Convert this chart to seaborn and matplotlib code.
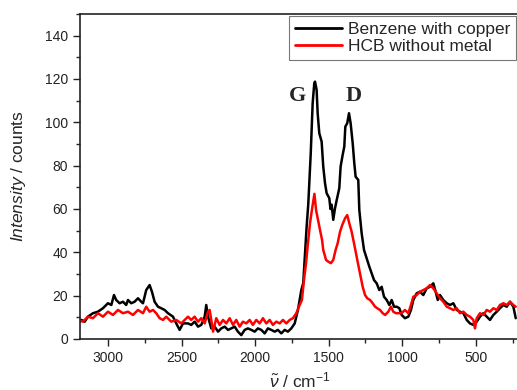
import matplotlib
matplotlib.use("Agg")
import matplotlib.pyplot as plt
import seaborn as sns
import pandas as pd
from matplotlib.ticker import MultipleLocator

# ---------------- data ----------------
bz_wavenumber = [3204, 3181, 3158, 3136, 3102, 3068, 3034, 3000, 2977, 2959, 2944, 2921, 2898,
                 2876, 2864, 2842, 2819, 2796, 2774, 2762, 2740, 2717, 2701, 2683, 2660, 2638,
                 2615, 2592, 2558, 2536, 2513, 2490, 2456, 2434, 2411, 2388, 2366, 2343, 2332,
                 2320, 2298, 2275, 2252, 2230, 2207, 2184, 2162, 2139, 2117, 2094, 2071, 2049,
                 2026, 2003, 1981, 1958, 1935, 1913, 1890, 1867, 1845, 1822, 1799, 1777, 1754,
                 1731, 1709, 1686, 1673, 1650, 1639, 1622, 1609, 1598, 1593, 1582, 1575, 1564,
                 1548, 1537, 1525, 1514, 1496, 1488, 1480, 1469, 1458, 1446, 1428, 1419, 1405,
                 1394, 1387, 1374, 1362, 1351, 1337, 1326, 1317, 1299, 1292, 1276, 1260, 1242,
                 1224, 1208, 1192, 1174, 1156, 1140, 1124, 1106, 1088, 1072, 1056, 1038, 1020,
                 1004, 982, 959, 941, 925, 902, 880, 857, 834, 812, 789, 773, 759, 744, 721, 698,
                 676, 653, 630, 608, 585, 562, 540, 517, 494, 472, 449, 426, 404, 381, 358, 336,
                 313, 290, 268, 245, 229]
bz_intensity = [7.2, 8.8, 8.0, 10.3, 11.9, 12.6, 14.2, 16.5, 15.7, 20.3, 18.0, 16.5, 17.2,
                15.7, 18.0, 16.5, 17.2, 18.8, 17.2, 16.5, 22.6, 24.9, 21.8, 17.2, 14.9, 14.2,
                13.4, 11.9, 10.3, 7.2, 4.2, 7.2, 7.2, 6.5, 8.0, 5.7, 6.5, 10.3, 15.7,
                10.3, 4.9, 5.7, 3.4, 4.9, 5.7, 4.2, 4.9, 5.7, 3.4, 1.8, 4.2, 4.9,
                4.2, 3.4, 4.9, 4.2, 2.6, 4.9, 4.2, 3.4, 4.2, 2.6, 4.2, 3.4, 4.9,
                7.2, 13.4, 22.6, 25.8, 51.8, 62.0, 85.7, 108.8, 118.0, 118.8, 115.0, 104.2, 95.0,
                91.1, 79.6, 71.9, 67.3, 65.0, 60.0, 62.0, 55.0, 60.0, 64.0, 69.6, 79.6, 85.0,
                88.8, 98.0, 99.6, 104.2, 99.6, 90.4, 81.1, 74.9, 73.4, 59.6, 48.8, 41.1, 37.3,
                33.4, 30.3, 27.2, 25.7, 22.6, 24.1, 19.5, 18.0, 15.7, 18.0, 14.9, 14.9, 14.2,
                11.1, 9.6, 10.3, 13.4, 18.0, 21.1, 21.8, 20.3, 23.4, 24.1, 25.7, 21.8, 18.0, 20.3, 18.0, 16.5,
                15.7, 16.5, 13.4, 12.6, 11.9, 8.8, 7.2, 6.5, 8.0, 10.3, 11.9, 10.3, 8.8, 11.1, 12.6, 14.2,
                15.7, 14.9, 17.2, 14.9, 9.6]

hcb_wavenumber = [3204, 3170, 3136, 3102, 3068, 3034, 3000, 2966, 2932, 2898, 2864, 2830, 2796,
                  2762, 2740, 2717, 2694, 2672, 2649, 2626, 2604, 2570, 2536, 2502, 2456, 2434,
                  2411, 2388, 2366, 2343, 2320, 2309, 2298, 2286, 2264, 2241, 2218, 2196, 2173,
                  2150, 2128, 2105, 2083, 2060, 2037, 2015, 1992, 1969, 1947, 1924, 1901, 1879,
                  1856, 1833, 1811, 1788, 1765, 1743, 1720, 1702, 1682, 1668, 1654, 1641, 1627,
                  1614, 1597, 1586, 1573, 1559, 1545, 1537, 1518, 1503, 1485, 1469, 1453, 1439,
                  1423, 1408, 1389, 1374, 1360, 1344, 1328, 1315, 1299, 1283, 1269, 1253, 1238,
                  1219, 1201, 1185, 1170, 1151, 1133, 1116, 1095, 1077, 1061, 1043, 1024, 1004,
                  982, 959, 941, 925, 902, 880, 857, 834, 812, 789, 766, 744, 721, 698, 676, 653,
                  630, 608, 585, 562, 540, 517, 506, 494, 472, 449, 426, 404, 381, 358, 336, 313,
                  290, 268, 245, 229]
hcb_intensity = [8.8, 8.0, 10.3, 9.6, 11.9, 10.3, 12.6, 11.1, 13.4, 11.9, 12.6, 11.1, 13.4,
                 11.9, 14.9, 12.6, 13.4, 11.9, 9.6, 8.8, 10.3, 8.0, 8.8, 7.2, 10.3, 8.8,
                 10.3, 8.0, 9.6, 7.2, 12.6, 13.4, 8.8, 3.4, 9.6, 6.5, 8.8, 7.2, 9.6,
                 6.5, 8.8, 5.7, 8.0, 7.2, 8.8, 6.5, 8.8, 7.2, 9.6, 7.2, 8.8, 6.5,
                 8.0, 7.2, 8.8, 7.2, 8.8, 9.6, 11.9, 14.9, 18.0, 27.2, 35.0, 44.2, 53.4,
                 59.6, 67.0, 59.6, 55.0, 50.3, 45.7, 41.1, 36.5, 35.7, 35.0, 36.5, 41.1, 44.2,
                 49.5, 52.6, 55.7, 57.2, 53.4, 49.5, 44.2, 39.6, 34.2, 28.8, 24.1, 20.3, 18.8,
                 18.0, 16.5, 14.9, 14.2, 13.4, 11.9, 11.1, 12.6, 14.9, 12.6, 11.9, 11.9, 11.9,
                 13.4, 11.9, 15.7, 19.5, 20.3, 21.8, 22.6, 23.4, 24.9, 23.4, 21.1, 18.8, 17.2, 14.9, 14.2, 13.4,
                 14.2, 11.9, 12.6, 11.1, 10.3, 8.8, 4.9, 9.6, 11.9, 11.1, 13.4, 12.6, 14.2, 13.4, 15.7, 16.5,
                 15.7, 17.2, 15.7, 14.9]

series_names = ["Benzene with copper", "HCB without metal"]
series_colors = ["black", "red"]
peak_labels = ["G", "D"]
peak_label_x = [1709, 1328]
peak_label_y = [112, 112]

# ---------------- figure ----------------
sns.set_style("white")
plt.rcParams["font.family"] = ["Liberation Sans", "DejaVu Sans"]
plt.rcParams["mathtext.fontset"] = "custom"
plt.rcParams["mathtext.rm"] = "Liberation Sans"
plt.rcParams["mathtext.it"] = "Liberation Sans:italic"

df = pd.concat([
    pd.DataFrame({"wn": bz_wavenumber, "I": bz_intensity, "s": series_names[0]}),
    pd.DataFrame({"wn": hcb_wavenumber, "I": hcb_intensity, "s": series_names[1]}),
], ignore_index=True)

fig = plt.figure(figsize=(5.17, 3.90), dpi=100)
ax = fig.add_axes([80 / 517, 51 / 390, 440 / 517, 325 / 390])

sns.lineplot(data=df, x="wn", y="I", hue="s", hue_order=series_names,
             palette=dict(zip(series_names, series_colors)), sort=False,
             estimator=None, linewidth=1.8, legend=False, ax=ax)

ax.set_xlim(3190, 200)
ax.set_ylim(0, 150)
ax.xaxis.set_major_locator(MultipleLocator(500))
ax.xaxis.set_minor_locator(MultipleLocator(250))
ax.yaxis.set_major_locator(MultipleLocator(20))
ax.yaxis.set_minor_locator(MultipleLocator(10))
ax.set_yticks([0, 20, 40, 60, 80, 100, 120, 140])
ax.tick_params(which="major", direction="out", length=5, width=1, labelsize=10,
               colors="#222222", bottom=True, left=True, top=False, right=False)
ax.tick_params(which="minor", direction="out", length=3, width=1,
               bottom=True, left=True, top=False, right=False)
for sp in ax.spines.values():
    sp.set_color("#222222")
    sp.set_linewidth(1.2)

ax.set_xlabel(r"$\tilde{\nu}$ / cm$^{-1}$", fontsize=12.5, labelpad=4)
ax.set_ylabel(r"$\mathit{Intensity}$ / counts", fontsize=12.5, labelpad=12)

for lab, lx, ly in zip(peak_labels, peak_label_x, peak_label_y):
    ax.text(lx, ly, lab, ha="center", va="center", fontsize=16, fontweight="bold",
            family="Liberation Serif")

leg = ax.legend(ax.lines[:2], series_names, loc="upper right",
                bbox_to_anchor=(516 / 517, 374 / 390), bbox_transform=fig.transFigure,
                borderaxespad=0, fontsize=12.5, frameon=True, fancybox=False,
                edgecolor="#555555", handlelength=2.7, handletextpad=0.3,
                borderpad=0.35, labelspacing=0.1)
leg.get_frame().set_linewidth(0.8)
for line in leg.get_lines():
    line.set_linewidth(2)

fig.savefig("out.png", dpi=100)
